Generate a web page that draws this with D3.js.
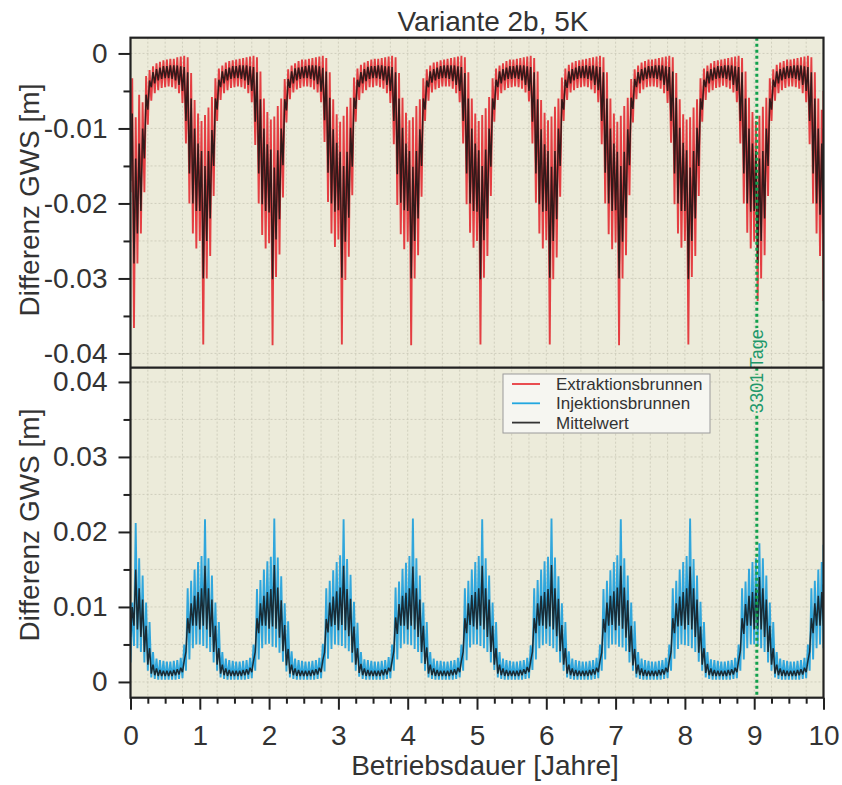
<!DOCTYPE html>
<html>
<head>
<meta charset="utf-8">
<script src="https://cdn.jsdelivr.net/npm/d3@7"></script>
<style>
body{margin:0;background:#fff;}
svg{font-family:"Liberation Sans",Arial,Helvetica,sans-serif;}
</style>
</head>
<body>
<svg id="chart" width="842" height="785"></svg>
<script>

// sample spacing in years, values in mm (one row per year)
var step = 0.05;

// top panel, Extraktionsbrunnen, upper / lower envelope
var extrHi = [
 [-3.3,-8.5,-5.5,-6.5,-3.0,-2.2,-1.7,-1.3,-1.1,-0.9,-0.8,-0.7,-0.7,-0.5,-0.4,-0.3,-0.5,-2.6,-6.2,-8.0],
 [-9.0,-8.2,-7.2,-5.8,-3.3,-2.0,-1.6,-1.2,-1.0,-0.9,-0.8,-0.7,-0.6,-0.5,-0.4,-0.3,-0.5,-2.4,-6.0,-7.8],
 [-8.8,-8.4,-7.0,-6.0,-3.4,-2.1,-1.6,-1.3,-1.0,-0.8,-0.8,-0.7,-0.6,-0.5,-0.4,-0.3,-0.6,-2.5,-6.1,-8.1],
 [-9.1,-8.3,-7.1,-5.9,-3.2,-2.0,-1.5,-1.2,-1.0,-0.8,-0.7,-0.7,-0.6,-0.5,-0.4,-0.3,-0.5,-2.6,-5.9,-7.9],
 [-8.9,-8.5,-7.0,-6.1,-3.3,-2.1,-1.6,-1.2,-1.1,-0.9,-0.8,-0.7,-0.6,-0.5,-0.4,-0.3,-0.5,-2.5,-6.0,-8.0],
 [-9.0,-8.2,-7.3,-5.8,-3.3,-2.0,-1.6,-1.3,-1.0,-0.8,-0.8,-0.7,-0.6,-0.5,-0.4,-0.3,-0.6,-2.4,-6.2,-7.9],
 [-8.9,-8.4,-7.1,-6.0,-3.2,-2.0,-1.5,-1.2,-1.0,-0.9,-0.8,-0.7,-0.6,-0.5,-0.4,-0.3,-0.5,-2.5,-6.0,-8.0],
 [-9.1,-8.3,-7.0,-5.9,-3.4,-2.1,-1.6,-1.2,-1.0,-0.8,-0.8,-0.7,-0.6,-0.5,-0.4,-0.3,-0.5,-2.6,-6.1,-8.1],
 [-8.8,-8.5,-7.2,-6.1,-3.3,-2.0,-1.6,-1.3,-1.0,-0.9,-0.8,-0.7,-0.6,-0.5,-0.4,-0.3,-0.6,-2.4,-5.9,-7.8],
 [-9.0,-8.3,-7.1,-5.9,-3.3,-2.1,-1.5,-1.2,-1.0,-0.8,-0.8,-0.7,-0.6,-0.5,-0.4,-0.3,-0.5,-2.5,-6.0,-7.5],
 [-5.0]
];
var extrLo = [
 [-18.5,-36.6,-28.0,-24.0,-18.5,-9.5,-6.3,-5.3,-4.9,-4.6,-4.5,-4.4,-4.5,-4.7,-5.3,-6.6,-12.0,-20.0,-24.0,-26.0],
 [-25.0,-38.8,-30.0,-27.0,-19.0,-9.0,-6.2,-5.3,-4.9,-4.6,-4.5,-4.4,-4.5,-4.7,-5.3,-6.5,-12.2,-20.0,-24.2,-26.0],
 [-25.3,-38.9,-29.8,-26.8,-19.2,-9.2,-6.1,-5.2,-4.8,-4.6,-4.4,-4.4,-4.5,-4.8,-5.2,-6.5,-11.8,-19.8,-24.0,-25.8],
 [-24.8,-38.8,-30.2,-27.1,-18.9,-9.1,-6.2,-5.3,-4.9,-4.5,-4.5,-4.3,-4.5,-4.7,-5.3,-6.6,-12.1,-20.2,-24.1,-26.1],
 [-25.1,-38.9,-30.0,-26.9,-19.1,-9.0,-6.3,-5.2,-4.8,-4.6,-4.4,-4.4,-4.4,-4.7,-5.3,-6.5,-12.0,-20.1,-23.9,-25.9],
 [-25.0,-38.8,-29.9,-27.0,-19.0,-9.1,-6.2,-5.3,-4.9,-4.6,-4.5,-4.4,-4.5,-4.7,-5.2,-6.4,-12.0,-19.9,-24.0,-26.0],
 [-24.9,-38.8,-30.1,-27.2,-19.1,-9.0,-6.2,-5.2,-4.9,-4.6,-4.5,-4.4,-4.5,-4.8,-5.3,-6.5,-12.1,-20.0,-24.1,-26.1],
 [-25.2,-38.9,-30.0,-26.9,-18.9,-9.2,-6.1,-5.3,-4.8,-4.5,-4.4,-4.4,-4.5,-4.7,-5.3,-6.6,-11.9,-20.1,-24.0,-25.9],
 [-25.0,-38.8,-29.8,-27.0,-19.0,-9.1,-6.2,-5.2,-4.9,-4.6,-4.5,-4.3,-4.5,-4.7,-5.2,-6.5,-12.0,-20.0,-23.9,-26.0],
 [-25.1,-33.0,-30.0,-26.9,-19.0,-9.0,-6.3,-5.3,-4.9,-4.6,-4.4,-4.4,-4.5,-4.7,-5.3,-6.5,-12.1,-20.0,-24.0,-27.0],
 [-33.0]
];

// top panel, Mittelwert
var meanTopHi = [
 [-8.0,-14.0,-12.0,-10.0,-5.5,-3.6,-2.5,-2.1,-1.9,-1.7,-1.7,-1.6,-1.6,-1.6,-1.7,-1.8,-2.5,-6.0,-10.0,-12.0],
 [-13.0,-15.0,-13.0,-10.2,-6.0,-3.5,-2.4,-2.1,-1.9,-1.7,-1.7,-1.6,-1.6,-1.6,-1.7,-1.8,-2.5,-6.1,-10.0,-12.1],
 [-12.8,-15.2,-12.9,-10.0,-6.1,-3.4,-2.4,-2.0,-1.9,-1.8,-1.7,-1.6,-1.6,-1.6,-1.7,-1.9,-2.4,-5.9,-10.1,-11.9],
 [-13.1,-15.0,-13.1,-9.9,-5.9,-3.5,-2.5,-2.1,-1.8,-1.7,-1.7,-1.6,-1.6,-1.7,-1.7,-1.8,-2.5,-6.0,-9.9,-12.0],
 [-13.0,-15.1,-13.0,-10.1,-6.0,-3.6,-2.4,-2.1,-1.9,-1.7,-1.6,-1.6,-1.6,-1.6,-1.7,-1.8,-2.6,-6.0,-10.0,-12.0],
 [-12.9,-15.0,-12.8,-10.0,-6.0,-3.5,-2.4,-2.1,-1.9,-1.7,-1.7,-1.6,-1.6,-1.6,-1.7,-1.8,-2.5,-6.1,-10.1,-12.1],
 [-13.0,-15.1,-13.0,-10.0,-6.1,-3.5,-2.4,-2.1,-1.9,-1.7,-1.7,-1.6,-1.7,-1.6,-1.7,-1.8,-2.5,-6.0,-10.0,-12.0],
 [-13.1,-15.0,-13.1,-10.1,-5.9,-3.4,-2.5,-2.1,-1.9,-1.7,-1.7,-1.6,-1.6,-1.6,-1.7,-1.8,-2.4,-5.9,-9.9,-11.9],
 [-12.9,-15.2,-13.0,-9.9,-6.0,-3.5,-2.4,-2.1,-1.9,-1.7,-1.7,-1.6,-1.6,-1.6,-1.7,-1.8,-2.5,-6.0,-10.0,-12.0],
 [-13.0,-14.0,-13.0,-10.0,-6.0,-3.5,-2.4,-2.1,-1.9,-1.7,-1.7,-1.6,-1.6,-1.6,-1.7,-1.8,-2.5,-6.0,-10.0,-12.0],
 [-10.0]
];
var meanTopLo = [
 [-17.0,-28.0,-24.0,-21.0,-14.0,-7.5,-4.5,-4.0,-3.6,-3.4,-3.3,-3.3,-3.4,-3.6,-4.2,-5.0,-9.0,-16.0,-20.0,-21.0],
 [-21.0,-30.0,-25.0,-22.0,-15.0,-7.5,-4.5,-4.0,-3.6,-3.4,-3.3,-3.3,-3.4,-3.6,-4.2,-5.0,-9.1,-16.0,-20.1,-21.0],
 [-21.2,-30.1,-24.8,-22.1,-14.9,-7.6,-4.6,-4.0,-3.6,-3.4,-3.3,-3.3,-3.4,-3.6,-4.1,-5.1,-8.9,-15.9,-20.0,-21.1],
 [-20.9,-29.9,-25.1,-21.9,-15.1,-7.4,-4.5,-4.0,-3.7,-3.4,-3.3,-3.3,-3.4,-3.6,-4.2,-5.0,-9.0,-16.1,-19.9,-20.9],
 [-21.0,-30.0,-25.0,-22.0,-15.0,-7.5,-4.5,-3.9,-3.6,-3.4,-3.3,-3.3,-3.4,-3.7,-4.2,-5.0,-9.0,-16.0,-20.0,-21.0],
 [-21.1,-30.1,-24.9,-22.0,-15.1,-7.5,-4.5,-4.0,-3.6,-3.4,-3.4,-3.3,-3.4,-3.6,-4.2,-5.0,-9.1,-16.0,-20.1,-21.1],
 [-21.0,-29.9,-25.0,-22.1,-15.0,-7.5,-4.6,-4.0,-3.6,-3.4,-3.3,-3.3,-3.4,-3.6,-4.2,-4.9,-9.0,-15.9,-20.0,-21.0],
 [-20.9,-30.0,-25.1,-21.9,-14.9,-7.4,-4.5,-4.0,-3.6,-3.4,-3.3,-3.3,-3.4,-3.6,-4.2,-5.0,-9.0,-16.0,-20.0,-21.0],
 [-21.0,-30.1,-25.0,-22.0,-15.0,-7.5,-4.5,-4.0,-3.6,-3.4,-3.3,-3.3,-3.4,-3.6,-4.2,-5.0,-9.0,-16.0,-20.0,-21.1],
 [-21.0,-28.0,-25.0,-22.0,-15.0,-7.5,-4.5,-4.0,-3.6,-3.4,-3.3,-3.3,-3.4,-3.6,-4.2,-5.0,-9.0,-16.0,-20.0,-21.5],
 [-24.0]
];

// bottom panel, Injektionsbrunnen
var injHi = [
 [10.6,21.2,16.5,14.2,10.6,8.0,4.0,3.1,2.9,2.8,2.7,2.7,2.8,2.9,3.2,5.0,12.5,13.5,15.0,16.0],
 [16.8,21.7,16.5,14.2,10.6,8.0,4.0,3.1,2.9,2.8,2.7,2.7,2.8,2.9,3.2,5.0,12.4,13.6,15.0,16.1],
 [16.7,21.8,16.6,14.1,10.5,8.1,4.1,3.1,2.9,2.8,2.7,2.7,2.8,2.9,3.2,5.1,12.5,13.5,14.9,16.0],
 [16.9,21.7,16.4,14.3,10.7,7.9,4.0,3.0,2.9,2.8,2.7,2.7,2.8,2.9,3.3,5.0,12.6,13.4,15.1,15.9],
 [16.8,21.8,16.5,14.2,10.6,8.0,4.0,3.1,2.8,2.8,2.7,2.7,2.8,2.9,3.2,5.0,12.5,13.5,15.0,16.0],
 [16.8,21.7,16.5,14.2,10.6,8.0,4.0,3.1,2.9,2.8,2.7,2.7,2.8,2.9,3.2,4.9,12.5,13.6,15.0,16.1],
 [16.7,21.8,16.6,14.1,10.5,8.0,4.1,3.1,2.9,2.8,2.7,2.7,2.8,2.9,3.2,5.0,12.4,13.5,14.9,16.0],
 [16.9,21.7,16.5,14.2,10.6,8.1,4.0,3.1,2.9,2.8,2.7,2.7,2.8,2.9,3.2,5.0,12.5,13.5,15.0,16.0],
 [16.8,21.8,16.4,14.2,10.7,8.0,4.0,3.0,2.9,2.8,2.7,2.7,2.8,2.9,3.2,5.0,12.5,13.4,15.1,16.0],
 [16.5,18.5,16.5,14.2,10.6,8.0,4.0,3.1,2.9,2.8,2.7,2.7,2.8,2.9,3.2,5.0,12.5,13.5,15.0,16.0],
 [18.3]
];
var injLo = [
 [2.6,4.8,4.5,4.0,2.6,1.5,0.6,0.4,0.3,0.3,0.3,0.3,0.3,0.3,0.4,0.5,1.5,3.0,4.5,5.0],
 [5.0,4.8,4.5,4.0,2.6,1.5,0.6,0.4,0.3,0.3,0.3,0.3,0.3,0.3,0.4,0.5,1.5,3.0,4.5,5.0],
 [5.1,4.7,4.6,3.9,2.7,1.4,0.6,0.4,0.3,0.3,0.3,0.3,0.3,0.3,0.4,0.5,1.4,3.1,4.4,5.0],
 [4.9,4.8,4.5,4.1,2.6,1.5,0.7,0.4,0.3,0.3,0.3,0.3,0.3,0.3,0.4,0.5,1.5,3.0,4.5,5.1],
 [5.0,4.9,4.4,4.0,2.5,1.5,0.6,0.4,0.3,0.3,0.3,0.3,0.3,0.3,0.4,0.6,1.5,2.9,4.6,5.0],
 [5.0,4.8,4.5,4.0,2.6,1.6,0.6,0.4,0.3,0.3,0.3,0.3,0.3,0.3,0.4,0.5,1.6,3.0,4.5,4.9],
 [5.1,4.8,4.5,4.0,2.6,1.5,0.6,0.4,0.3,0.3,0.3,0.3,0.3,0.3,0.4,0.5,1.5,3.0,4.5,5.0],
 [5.0,4.7,4.6,4.1,2.6,1.5,0.6,0.4,0.3,0.3,0.3,0.3,0.3,0.3,0.4,0.5,1.5,3.1,4.4,5.0],
 [4.9,4.8,4.5,4.0,2.7,1.5,0.6,0.4,0.3,0.3,0.3,0.3,0.3,0.3,0.4,0.5,1.5,3.0,4.5,5.0],
 [5.0,4.8,4.5,4.0,2.6,1.5,0.6,0.4,0.3,0.3,0.3,0.3,0.3,0.3,0.4,0.5,1.5,3.0,4.5,5.0],
 [4.5]
];

// bottom panel, Mittelwert
var meanBotHi = [
 [10.0,15.0,12.5,11.0,7.5,4.5,2.3,1.8,1.6,1.5,1.5,1.5,1.6,1.7,1.9,2.8,8.5,10.5,11.5,12.0],
 [12.5,15.5,12.5,11.0,7.5,4.5,2.3,1.8,1.6,1.5,1.5,1.5,1.6,1.7,1.9,2.8,8.5,10.5,11.5,12.0],
 [12.4,15.6,12.6,10.9,7.6,4.4,2.3,1.8,1.6,1.5,1.5,1.5,1.6,1.7,1.9,2.9,8.4,10.6,11.4,12.1],
 [12.6,15.5,12.4,11.1,7.4,4.5,2.4,1.8,1.6,1.5,1.5,1.5,1.6,1.7,1.9,2.8,8.6,10.4,11.5,11.9],
 [12.5,15.4,12.5,11.0,7.5,4.6,2.3,1.8,1.6,1.5,1.5,1.5,1.6,1.7,1.9,2.8,8.5,10.5,11.6,12.0],
 [12.5,15.5,12.5,11.0,7.5,4.5,2.3,1.8,1.6,1.5,1.5,1.5,1.6,1.7,2.0,2.8,8.5,10.5,11.5,12.0],
 [12.4,15.6,12.5,11.1,7.6,4.5,2.3,1.8,1.6,1.5,1.5,1.5,1.6,1.7,1.9,2.8,8.4,10.6,11.5,12.1],
 [12.6,15.5,12.6,10.9,7.5,4.4,2.3,1.8,1.6,1.5,1.5,1.5,1.6,1.7,1.9,2.8,8.5,10.5,11.4,12.0],
 [12.5,15.4,12.5,11.0,7.4,4.5,2.4,1.8,1.6,1.5,1.5,1.5,1.6,1.7,1.9,2.8,8.5,10.4,11.5,12.0],
 [12.5,14.0,12.5,11.0,7.5,4.5,2.3,1.8,1.6,1.5,1.5,1.5,1.6,1.7,1.9,2.8,8.5,10.5,11.5,12.0],
 [13.0]
];
var meanBotLo = [
 [6.0,7.5,7.0,6.0,4.0,2.3,1.1,0.9,0.8,0.8,0.8,0.8,0.8,0.9,1.0,1.3,4.0,6.5,7.5,7.5],
 [7.0,7.5,7.0,6.0,4.0,2.3,1.1,0.9,0.8,0.8,0.8,0.8,0.8,0.9,1.0,1.3,4.0,6.5,7.5,7.5],
 [7.1,7.4,7.1,5.9,4.1,2.2,1.1,0.9,0.8,0.8,0.8,0.8,0.8,0.9,1.0,1.3,3.9,6.6,7.4,7.6],
 [6.9,7.6,6.9,6.1,3.9,2.3,1.2,0.9,0.8,0.8,0.8,0.8,0.8,0.9,1.0,1.4,4.1,6.4,7.5,7.5],
 [7.0,7.5,7.0,6.0,4.0,2.4,1.1,0.9,0.8,0.8,0.8,0.8,0.8,0.9,1.0,1.3,4.0,6.5,7.6,7.4],
 [7.0,7.5,7.0,6.0,4.0,2.3,1.1,0.9,0.8,0.8,0.8,0.8,0.8,0.9,1.1,1.3,4.0,6.5,7.5,7.5],
 [7.1,7.4,7.0,6.1,4.1,2.3,1.1,0.9,0.8,0.8,0.8,0.8,0.8,0.9,1.0,1.3,3.9,6.6,7.5,7.6],
 [6.9,7.5,7.1,5.9,4.0,2.2,1.1,0.9,0.8,0.8,0.8,0.8,0.8,0.9,1.0,1.3,4.0,6.5,7.4,7.5],
 [7.0,7.6,7.0,6.0,3.9,2.3,1.2,0.9,0.8,0.8,0.8,0.8,0.8,0.9,1.0,1.3,4.1,6.4,7.5,7.5],
 [7.0,7.0,7.0,6.0,4.0,2.3,1.1,0.9,0.8,0.8,0.8,0.8,0.8,0.9,1.0,1.3,4.0,6.5,7.5,7.5],
 [7.5]
];

// axes
var xTicks = [0,1,2,3,4,5,6,7,8,9,10];
var topTicks = [0,-0.01,-0.02,-0.03,-0.04];
var topTickLabels = ["0","-0.01","-0.02","-0.03","-0.04"];
var botTicks = [0.04,0.03,0.02,0.01,0];
var botTickLabels = ["0.04","0.03","0.02","0.01","0"];

var markerDay = 3301;
var markerLabel = "3301 Tage";

var legendNames = ["Extraktionsbrunnen","Injektionsbrunnen","Mittelwert"];
var legendColors = ["#e83a3e","#22a7e0","#333333"];

var bg = "#ecebda";

var svg = d3.select("#chart");

var plotL = 130.5, plotR = 823.5, plotT = 37.7, plotM = 367.7, plotB = 697.7;

var x = d3.scaleLinear().domain([0,10]).range([plotL,plotR]);
var yTop = d3.scaleLinear().domain([-0.0419,0.0021]).range([plotM,plotT]);
var yBot = d3.scaleLinear().domain([-0.0021,0.0419]).range([plotB,plotM]);

// plot background
svg.append('rect')
    .attr('x',plotL).attr('y',plotT)
    .attr('width',plotR-plotL).attr('height',plotB-plotT)
    .attr('fill',bg);

var defs = svg.append('defs');
defs.append('clipPath').attr('id','clipTop').append('rect')
    .attr('x',plotL).attr('y',plotT).attr('width',plotR-plotL).attr('height',plotM-plotT);
defs.append('clipPath').attr('id','clipBot').append('rect')
    .attr('x',plotL).attr('y',plotM).attr('width',plotR-plotL).attr('height',plotB-plotM);

// grid
var gridX = d3.range(1,40).map(d=>d*0.25);
var grid = svg.append('g').attr('class','grid')
    .attr('stroke','#c9c8b6').attr('stroke-width',0.8).attr('stroke-dasharray','2,2');

grid.selectAll('.gx').data(gridX).enter().append('line')
    .attr('x1',d=>x(d)).attr('x2',d=>x(d))
    .attr('y1',plotT).attr('y2',plotB);

var gridTop = d3.range(0,9).map(d=>-d*0.005);
var gridBot = d3.range(0,9).map(d=>d*0.005);
grid.selectAll('.gt').data(gridTop).enter().append('line')
    .attr('x1',plotL).attr('x2',plotR)
    .attr('y1',d=>yTop(d)).attr('y2',d=>yTop(d));
grid.selectAll('.gb').data(gridBot).enter().append('line')
    .attr('x1',plotL).attr('x2',plotR)
    .attr('y1',d=>yBot(d)).attr('y2',d=>yBot(d));

// series: each sample drawn from its lower to its upper reading
function band(g, yScale, loRows, hiRows, color, width, opacity){
    var lo = loRows.flat(), hi = hiRows.flat();
    var pts = [];
    lo.forEach(function(v,i){
        var t = i*step;
        pts.push([t, v]);
        pts.push([Math.min(t+step/2,10), hi[i]]);
    });
    var line = d3.line()
        .x(d=>x(d[0]))
        .y(d=>yScale(d[1]/1000));
    g.append('path')
        .attr('d',line(pts))
        .attr('fill','none')
        .attr('stroke',color)
        .attr('stroke-width',width)
        .attr('stroke-opacity',opacity)
        .attr('stroke-linejoin','bevel');
}

var gTop = svg.append('g').attr('clip-path','url(#clipTop)');
band(gTop, yTop, extrLo, extrHi, "#e3262c", 1.9, 0.88);
band(gTop, yTop, meanTopLo, meanTopHi, "#1a1414", 1.5, 0.88);

var gBot = svg.append('g').attr('clip-path','url(#clipBot)');
band(gBot, yBot, injLo, injHi, "#1c9fdc", 1.9, 0.9);
band(gBot, yBot, meanBotLo, meanBotHi, "#161a1e", 1.5, 0.88);

// marker line at 3301 days
var xm = x(markerDay/365.25);
svg.append('line')
    .attr('x1',xm).attr('x2',xm)
    .attr('y1',plotT).attr('y2',plotB)
    .attr('stroke','#11a04c')
    .attr('stroke-width',3)
    .attr('stroke-dasharray','3,3');

svg.append('text')
    .attr('transform','translate('+(xm+6.5)+',371) rotate(-90)')
    .attr('text-anchor','middle')
    .attr('font-size','18px')
    .attr('fill','#21986a')
    .attr('stroke',bg).attr('stroke-width',4)
    .attr('paint-order','stroke')
    .text(markerLabel);

// frame
svg.append('rect')
    .attr('x',plotL).attr('y',plotT)
    .attr('width',plotR-plotL).attr('height',plotB-plotT)
    .attr('fill','none').attr('stroke','#222').attr('stroke-width',2.2);
svg.append('line')
    .attr('x1',plotL).attr('x2',plotR).attr('y1',plotM).attr('y2',plotM)
    .attr('stroke','#222').attr('stroke-width',2.2);

// axes
function styleAxis(g){
    g.select('.domain').remove();
    g.selectAll('line').attr('stroke','#222').attr('stroke-width',2);
    g.selectAll('text').attr('font-size','28px').attr('fill','#333')
        .style('font-family','"Liberation Sans",Arial,sans-serif');
}

var yAxisTop = d3.axisLeft(yTop).tickValues(topTicks)
    .tickFormat((d,i)=>topTickLabels[i]).tickSize(12).tickPadding(11);
svg.append('g').attr('transform','translate('+plotL+',0)').call(yAxisTop).call(styleAxis);
svg.append('g').attr('transform','translate('+plotL+',0)')
    .call(d3.axisLeft(yTop).tickValues([-0.005,-0.015,-0.025,-0.035]).tickFormat('').tickSize(7))
    .call(styleAxis);

var yAxisBot = d3.axisLeft(yBot).tickValues(botTicks)
    .tickFormat((d,i)=>botTickLabels[i]).tickSize(12).tickPadding(11);
svg.append('g').attr('transform','translate('+plotL+',0)').call(yAxisBot).call(styleAxis);
svg.append('g').attr('transform','translate('+plotL+',0)')
    .call(d3.axisLeft(yBot).tickValues([0.005,0.015,0.025,0.035]).tickFormat('').tickSize(7))
    .call(styleAxis);

var xAxis = d3.axisBottom(x).tickValues(xTicks).tickFormat(d3.format('d'))
    .tickSize(12).tickPadding(15);
svg.append('g').attr('transform','translate(0,'+plotB+')').call(xAxis).call(styleAxis);
svg.append('g').attr('transform','translate(0,'+plotB+')')
    .call(d3.axisBottom(x).tickValues(gridX.filter(d=>d%1!==0)).tickFormat('').tickSize(6))
    .call(styleAxis);

// titles
svg.append('text')
    .attr('x',493).attr('y',31)
    .attr('text-anchor','middle')
    .attr('font-size','28px').attr('fill','#333')
    .text('Variante 2b, 5K');

svg.append('text')
    .attr('x',485).attr('y',775)
    .attr('text-anchor','middle')
    .attr('font-size','28px').attr('fill','#333')
    .text('Betriebsdauer [Jahre]');

svg.append('text')
    .attr('transform','translate(39,200) rotate(-90)')
    .attr('text-anchor','middle')
    .attr('font-size','28px').attr('fill','#333')
    .text('Differenz GWS [m]');

svg.append('text')
    .attr('transform','translate(39,525) rotate(-90)')
    .attr('text-anchor','middle')
    .attr('font-size','28px').attr('fill','#333')
    .text('Differenz GWS [m]');

// legend
var legend = svg.append('g').attr('transform','translate(503,374)');
legend.append('rect')
    .attr('width',207).attr('height',59)
    .attr('fill','#f6f6f1').attr('stroke','#9a9a9a').attr('stroke-width',1);

var items = legend.selectAll('.item').data(legendNames).enter()
    .append('g').attr('transform',(d,i)=>'translate(0,'+(10+i*19.3)+')');
items.append('line')
    .attr('x1',9).attr('x2',37)
    .attr('stroke',(d,i)=>legendColors[i]).attr('stroke-width',1.8);
items.append('text')
    .attr('x',53).attr('y',0).attr('dy','0.35em')
    .attr('font-size','17px').attr('fill','#333')
    .text(d=>d);

</script>
</body>
</html>
